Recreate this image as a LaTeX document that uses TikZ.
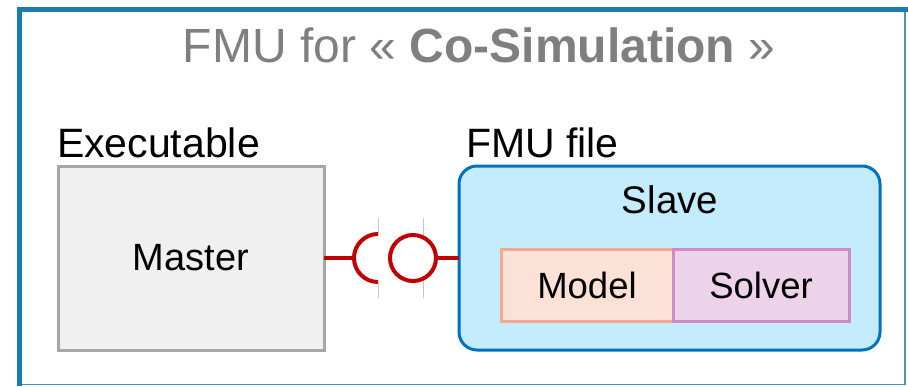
\documentclass[tikz,border=0pt]{standalone}
\usepackage{fontspec}
\setmainfont{Liberation Sans}
\usetikzlibrary{shadows}

\definecolor{framec}{HTML}{1A7DB0}
\definecolor{framethin}{HTML}{4A95B9}
\definecolor{titlegray}{HTML}{7F7F7F}
\definecolor{masterfill}{HTML}{F0F0F0}
\definecolor{masterline}{HTML}{A6A6A6}
\definecolor{slavefill}{HTML}{C5ECFC}
\definecolor{slaveline}{HTML}{0070C0}
\definecolor{modelfill}{HTML}{FBE1D6}
\definecolor{modelline}{HTML}{F4A98D}
\definecolor{solverfill}{HTML}{EDD3EA}
\definecolor{solverline}{HTML}{D18AC8}
\definecolor{connred}{HTML}{C00000}
\definecolor{guidegray}{HTML}{C8C8C8}

\newcommand{\fs}[1]{\fontsize{#1}{#1}\selectfont}

\begin{document}
\begin{tikzpicture}[x=1pt,y=-1pt,
  every node/.style={inner sep=0pt, outer sep=0pt, text=black},
  boxlabel/.style={anchor=base west, font=\fs{41}},
  masterbox/.style={rectangle, draw=masterline, fill=masterfill, line width=3pt,
    minimum width=266pt, minimum height=184pt, font=\fs{38},
    drop shadow={shadow xshift=1pt, shadow yshift=-2pt, fill=black, opacity=0.25}},
  slavebox/.style={rectangle, rounded corners=18pt, draw=slaveline, fill=slavefill,
    line width=3pt, minimum width=421pt, minimum height=184pt},
  partbox/.style={rectangle, line width=3pt, minimum height=72pt, font=\fs{36.5}},
  conn/.style={draw=connred, line width=4pt},
  guide/.style={draw=guidegray, line width=0.8pt},
  framethick/.style={draw=framec, line width=4.5pt},
  framethinline/.style={draw=framethin, line width=1.5pt}]

\useasboundingbox (0,0) rectangle (908,386);

% outer frame
\draw[framethinline] (19.5,384.5) -- (905,384.5) -- (905,9.5);
\draw[framethick] (19.5,386) -- (19.5,9.5) -- (908,9.5);

% title
\node[anchor=base, text=titlegray, font=\fs{48}] (title) at (479,62)
  {FMU for « \textbf{Co-Simulation} »};

% executable side
\node[boxlabel] (exelabel) at (57,157) {Executable};
\node[masterbox] (master) at (191,258) {Master};

% FMU side
\node[boxlabel] (fmulabel) at (466,157) {FMU file};
\node[slavebox] (slave) at (669.5,258) {};
\node[anchor=base, font=\fs{38.5}] (slavetxt) at (670,213) {Slave};
\node[partbox, draw=modelline, fill=modelfill, minimum width=172pt] (model) at (587,285) {Model};
\node[partbox, draw=solverline, fill=solverfill, minimum width=176pt] (solver) at (761,285) {Solver};

% socket / ball interface
\coordinate (sk) at (378,258);
\node[circle, draw=connred, line width=4pt, fill=white, minimum size=46pt] (ball) at (413,258) {};

\draw[guide] (378,218) -- (378,234);
\draw[guide] (378,282) -- (378,298);
\draw[guide] (423,218) -- (423,235);
\draw[guide] (423,281) -- (423,298);

\draw[conn] (master.east) -- ([xshift=-24pt]sk);
\draw[conn] (sk) ++(0,24) arc[start angle=90, end angle=270, radius=24];
\draw[conn] (ball.east) -- (slave.west);

\end{tikzpicture}
\end{document}
